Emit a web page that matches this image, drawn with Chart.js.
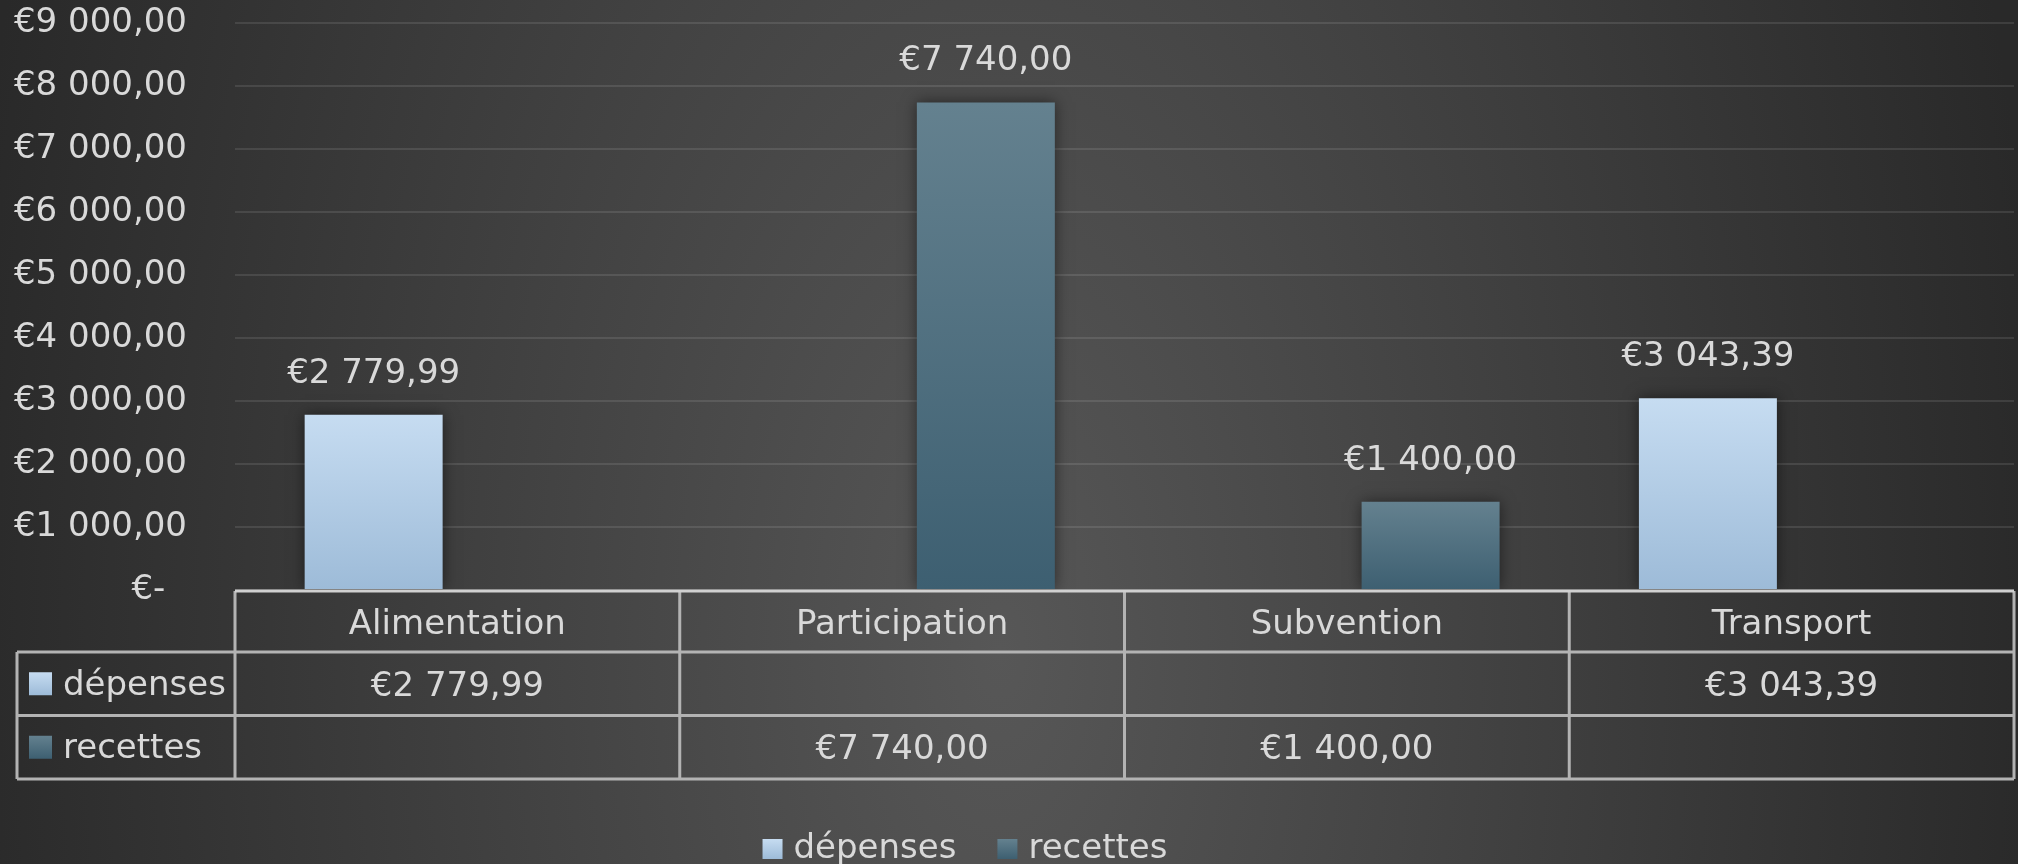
<!DOCTYPE html>
<html lang="fr">
<head>
  <meta charset="UTF-8" />
  <title>Dépenses et recettes</title>
  <script src="https://cdn.jsdelivr.net/npm/chart.js"></script>
  <style>
    * { margin: 0; padding: 0; box-sizing: border-box; }
    html, body { width: 2018px; height: 864px; overflow: hidden; }
    body { background: radial-gradient(ellipse 1050px 2000px at 1000px 650px, #575757 0%, #292929 100%); }
    .wrap { position: relative; width: 2018px; height: 864px; }
  </style>
</head>
<body>
  <div class="wrap"><canvas id="budgetChart" width="2018" height="864"></canvas></div>
  <script>
    // data
    const categories = ['Alimentation', 'Participation', 'Subvention', 'Transport'];
    const seriesNames = ['dépenses', 'recettes'];
    const depenses = [2779.99, null, null, 3043.39];
    const recettes = [null, 7740.00, 1400.00, null];
    const yMax = 9000;
    const yStep = 1000;

    const colorTop = ['#c6dcf1', '#64818f'];
    const colorBottom = ['#9dbbd8', '#3d5f71'];
    const TEXT = '#d9d9d9';
    const FONT = '"DejaVu Sans", sans-serif';
    const SIZE = 34;

    Chart.defaults.font.family = FONT;
    Chart.defaults.font.size = SIZE;
    Chart.defaults.color = TEXT;

    // accounting style: €2 779,99 and €- for zero
    function euro(v) {
      if (!v) return '€-\u2007';
      const parts = v.toFixed(2).split('.');
      return '€' + parts[0].replace(/\B(?=(\d{3})+(?!\d))/g, ' ') + ',' + parts[1];
    }

    function barFill(i) {
      return function (c) {
        const chart = c.chart;
        if (!chart.chartArea || c.raw == null) return colorBottom[i];
        const y = chart.scales.y;
        const g = chart.ctx.createLinearGradient(0, y.getPixelForValue(c.raw), 0, y.getPixelForValue(0));
        g.addColorStop(0, colorTop[i]);
        g.addColorStop(1, colorBottom[i]);
        return g;
      };
    }

    function swatch(ctx, i, x, y, s) {
      const g = ctx.createLinearGradient(0, y, 0, y + s);
      g.addColorStop(0, colorTop[i]);
      g.addColorStop(1, colorBottom[i]);
      ctx.fillStyle = g;
      ctx.fillRect(x, y, s, s);
    }

    const barExtras = {
      id: 'barExtras',
      beforeDatasetsDraw(chart) {
        const c = chart.ctx;
        c.save();
        c.shadowColor = 'rgba(0,0,0,0.5)';
        c.shadowBlur = 14;
      },
      afterDatasetsDraw(chart) {
        const c = chart.ctx;
        c.restore();
        c.save();
        c.font = SIZE + 'px ' + FONT;
        c.fillStyle = TEXT;
        c.textAlign = 'center';
        c.textBaseline = 'alphabetic';
        chart.data.datasets.forEach((ds, di) => {
          chart.getDatasetMeta(di).data.forEach((el, i) => {
            const v = ds.data[i];
            if (v == null) return;
            c.fillText(euro(v), el.x, el.y - 32);
          });
        });
        c.restore();
      }
    };

    const dataTable = {
      id: 'dataTable',
      afterDraw(chart) {
        const { ctx, chartArea: a, scales: { x } } = chart;
        const tableLeft = 17, headH = 61, rowH = 63.5;
        const y0 = a.bottom + 1;
        const lines = [y0 + headH, y0 + headH + rowH, y0 + headH + 2 * rowH];
        const yEnd = lines[2];
        const colW = (a.right - a.left) / categories.length;
        ctx.save();
        ctx.lineWidth = 3;
        ctx.strokeStyle = '#b3b3b3';
        ctx.beginPath();
        lines.forEach(r => { ctx.moveTo(tableLeft, r); ctx.lineTo(a.right, r); });
        ctx.moveTo(tableLeft, lines[0]); ctx.lineTo(tableLeft, yEnd);
        for (let i = 0; i <= categories.length; i++) {
          ctx.moveTo(a.left + i * colW, y0); ctx.lineTo(a.left + i * colW, yEnd);
        }
        ctx.stroke();
        ctx.strokeStyle = '#d0d0d0';
        ctx.beginPath();
        ctx.moveTo(a.left, y0); ctx.lineTo(a.right, y0);
        ctx.stroke();

        ctx.font = SIZE + 'px ' + FONT;
        ctx.fillStyle = TEXT;
        ctx.textBaseline = 'alphabetic';
        ctx.textAlign = 'center';
        categories.forEach((cat, i) => ctx.fillText(cat, x.getPixelForValue(i), y0 + headH / 2 + 12));
        chart.data.datasets.forEach((ds, s) => {
          const cy = lines[s] + rowH / 2;
          ds.data.forEach((v, i) => {
            if (v == null) return;
            ctx.fillStyle = TEXT;
            ctx.textAlign = 'center';
            ctx.fillText(euro(v), x.getPixelForValue(i), cy + 12);
          });
          swatch(ctx, s, 29, cy - 11.5, 23);
          ctx.fillStyle = TEXT;
          ctx.textAlign = 'left';
          ctx.fillText(ds.label, 63, cy + 11);
        });

        // legend below the table
        const box = 20, gap = 11, between = 41, centre = 965, base = 858;
        const widths = seriesNames.map(n => ctx.measureText(n).width);
        let total = widths.reduce((t, w) => t + box + gap + w, 0) + between * (seriesNames.length - 1);
        let lx = centre - total / 2;
        seriesNames.forEach((n, s) => {
          swatch(ctx, s, lx, base - 19, box);
          ctx.fillStyle = TEXT;
          ctx.textAlign = 'left';
          ctx.fillText(n, lx + box + gap, base);
          lx += box + gap + widths[s] + between;
        });
        ctx.restore();
      }
    };

    new Chart(document.getElementById('budgetChart').getContext('2d'), {
      type: 'bar',
      data: {
        labels: categories,
        datasets: [
          { label: seriesNames[0], data: depenses, backgroundColor: barFill(0) },
          { label: seriesNames[1], data: recettes, backgroundColor: barFill(1) }
        ]
      },
      options: {
        responsive: false,
        animation: false,
        layout: { padding: { top: 23, right: 4, bottom: 274, left: 0 } },
        datasets: { bar: { categoryPercentage: 0.753, barPercentage: 0.824 } },
        plugins: { legend: { display: false }, tooltip: { enabled: false } },
        scales: {
          x: { display: false },
          y: {
            min: 0,
            max: yMax,
            ticks: { stepSize: yStep, padding: 48, callback: v => euro(v) },
            grid: { color: 'rgba(255,255,255,0.1)', lineWidth: 2, drawTicks: false },
            border: { display: false },
            afterFit(scale) {
              scale.width = 235;
              scale.paddingTop = 0;
              scale.paddingBottom = 0;
            }
          }
        }
      },
      plugins: [barExtras, dataTable]
    });
  </script>
</body>
</html>
